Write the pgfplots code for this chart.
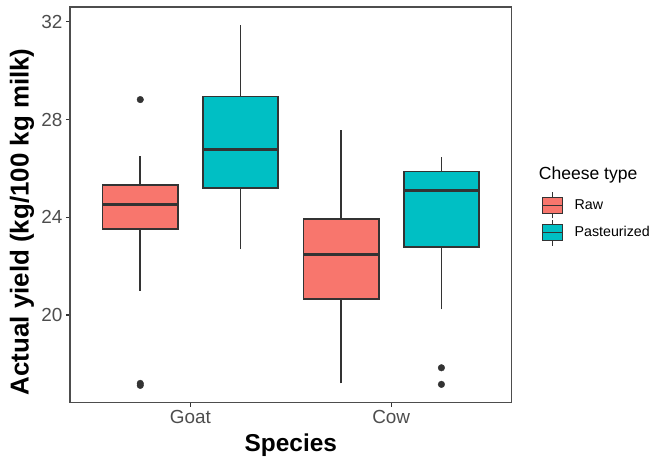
\documentclass[border=0pt]{standalone}
\usepackage{fontspec}
\setmainfont{Liberation Sans}
\usepackage{pgfplots}
\pgfplotsset{compat=1.18}
\definecolor{rawc}{HTML}{F8766D}
\definecolor{pasc}{HTML}{00BFC4}
\definecolor{edgec}{HTML}{333333}
\definecolor{tickc}{HTML}{4D4D4D}
\definecolor{framec}{HTML}{4D4D4D}
\begin{document}
\begin{tikzpicture}
\path[use as bounding box] (0bp,0bp) rectangle (652bp,458bp);
\begin{axis}[
  at={(70bp,55.3bp)}, anchor=south west,
  scale only axis, width=441.7bp, height=395.7bp,
  xmin=0.4, xmax=2.6, ymin=16.41, ymax=32.61,
  xtick={1,2}, xticklabels={Goat,Cow},
  ytick={20,24,28,32},
  xtick pos=bottom, ytick pos=left,
  tick align=outside, major tick length=4bp,
  axis line style={draw=framec, line width=1.1bp},
  every tick/.style={draw=edgec, line width=1.1bp},
  tick label style={font=\fontsize{19}{19}\selectfont, text=tickc},
  /pgf/number format/assume math mode=true,
  xlabel={Species}, ylabel={Actual yield (kg/100 kg milk)},
  xlabel style={at={(axis description cs:0.5,-0.1238)}, anchor=base, font=\fontsize{24.5}{25}\selectfont\bfseries},
  ylabel style={at={(axis description cs:-0.1087,0.457)}, anchor=center, font=\fontsize{26}{26}\selectfont\bfseries},
  clip=false,
  whisk/.style={draw=edgec, line width=1.6bp, forget plot},
  boxs/.style={draw=edgec, line width=1.7bp, fill=#1, forget plot},
  med/.style={draw=edgec, line width=3.1bp, forget plot},
  outl/.style={only marks, mark=*, mark size=3.3bp, mark options={fill=edgec, draw=edgec, line width=0.4bp}, forget plot},
  legend style={at={(axis description cs:1.0679,0.5332)}, anchor=north west, draw=none, fill=none,
    font=\fontsize{14.3}{16}\selectfont, row sep=0bp, inner sep=0pt},
  legend cell align=left,
]
% ---------- Goat, Raw (x = 0.75): whiskers 21.0 / 26.51, box 23.51-25.32, median 24.52
\addplot[whisk] coordinates {(0.75,21.0) (0.75,23.51)};
\addplot[whisk] coordinates {(0.75,25.32) (0.75,26.51)};
\addplot[boxs=rawc] coordinates {(0.5625,23.51) (0.9375,23.51) (0.9375,25.32) (0.5625,25.32)} -- cycle;
\addplot[med] coordinates {(0.5625,24.52) (0.9375,24.52)};
\addplot[outl] coordinates {(0.75,28.82) (0.75,17.12) (0.75,17.20)};
% ---------- Goat, Pasteurized (x = 1.25): whiskers 22.70 / 31.88, box 25.21-28.95, median 26.78
\addplot[whisk] coordinates {(1.25,22.70) (1.25,25.21)};
\addplot[whisk] coordinates {(1.25,28.95) (1.25,31.88)};
\addplot[boxs=pasc] coordinates {(1.0625,25.21) (1.4375,25.21) (1.4375,28.95) (1.0625,28.95)} -- cycle;
\addplot[med] coordinates {(1.0625,26.78) (1.4375,26.78)};
% ---------- Cow, Raw (x = 1.75): whiskers 17.20 / 27.58, box 20.66-23.92, median 22.49
\addplot[whisk] coordinates {(1.75,17.20) (1.75,20.66)};
\addplot[whisk] coordinates {(1.75,23.92) (1.75,27.58)};
\addplot[boxs=rawc] coordinates {(1.5625,20.66) (1.9375,20.66) (1.9375,23.92) (1.5625,23.92)} -- cycle;
\addplot[med] coordinates {(1.5625,22.49) (1.9375,22.49)};
% ---------- Cow, Pasteurized (x = 2.25): whiskers 20.23 / 26.48, box 22.78-25.87, median 25.09
\addplot[whisk] coordinates {(2.25,20.23) (2.25,22.78)};
\addplot[whisk] coordinates {(2.25,25.87) (2.25,26.48)};
\addplot[boxs=pasc] coordinates {(2.0625,22.78) (2.4375,22.78) (2.4375,25.87) (2.0625,25.87)} -- cycle;
\addplot[med] coordinates {(2.0625,25.09) (2.4375,25.09)};
\addplot[outl] coordinates {(2.25,17.84) (2.25,17.16)};
% ---------- legend
\addlegendimage{legend image code/.code={
  \draw[edgec, line width=1.1bp] (10bp,-13bp) -- (10bp,13bp);
  \draw[edgec, fill=rawc, line width=1.4bp] (0bp,-8bp) rectangle (20bp,8bp);
  \draw[edgec, line width=1.7bp] (0bp,0bp) -- (20bp,0bp);}}
\addlegendentry{\hspace{9bp}Raw}
\addlegendimage{legend image code/.code={
  \draw[edgec, line width=1.1bp] (10bp,-13bp) -- (10bp,13bp);
  \draw[edgec, fill=pasc, line width=1.4bp] (0bp,-8bp) rectangle (20bp,8bp);
  \draw[edgec, line width=1.7bp] (0bp,0bp) -- (20bp,0bp);}}
\addlegendentry{\hspace{9bp}Pasteurized}
\node[anchor=base west, font=\fontsize{17.6}{18}\selectfont, inner sep=0pt] at (axis description cs:1.0611,0.5653) {Cheese type};
\end{axis}
\end{tikzpicture}
\end{document}
